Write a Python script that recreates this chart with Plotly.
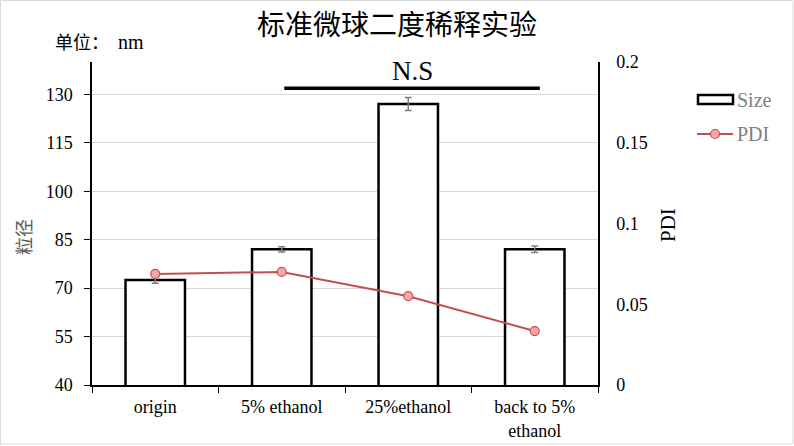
import plotly.graph_objects as go

categories = ["origin", "5% ethanol", "25%ethanol", "back to 5%<br>ethanol"]
size_values = [72.5, 82.0, 127.0, 82.0]
size_errors = [1.0, 0.8, 2.0, 1.0]
pdi_values = [0.0688, 0.0700, 0.0550, 0.0334]
left_ticks = [40, 55, 70, 85, 100, 115, 130]
right_ticks = [0, 0.05, 0.1, 0.15, 0.2]
right_tick_labels = ["0", "0.05", "0.1", "0.15", "0.2"]
series_names = ["Size", "PDI"]

serif = "Liberation Serif"
cjk = "Noto Sans CJK SC"
mixed = "Liberation Serif, Noto Sans CJK SC"

W, H = 794, 446
PL, PR, PT, PB = 92, 598, 62, 385
PW, PH = PR - PL, PB - PT
RED = "#C0504D"
PINK = "#F4A7A6"


def px(x):
    return (x - PL) / PW


def py(y):
    return (PB - y) / PH


fig = go.Figure()
fig.add_trace(go.Bar(
    x=categories, y=size_values, name=series_names[0],
    marker=dict(color="white", line=dict(color="black", width=2.5)),
    width=0.47,
    error_y=dict(type="data", array=size_errors, color="#7f7f7f", thickness=1.5, width=3.5),
    yaxis="y", showlegend=False, hoverinfo="skip",
))
fig.add_trace(go.Scatter(
    x=categories, y=pdi_values, name=series_names[1], mode="lines+markers",
    line=dict(color=RED, width=2),
    marker=dict(size=9, color=PINK, line=dict(color=RED, width=1.2)),
    yaxis="y2", showlegend=False, hoverinfo="skip",
))

# N.S significance bar
fig.add_shape(type="line", xref="x", yref="y", x0=1.02, x1=3.04, y0=131.9, y1=131.9,
              line=dict(color="black", width=3.5))
fig.add_annotation(x=2.03, y=131.9, xref="x", yref="y", text="N.S", showarrow=False,
                   yanchor="bottom", yshift=0, font=dict(family=serif, size=27, color="black"))

# unit label
fig.add_annotation(xref="paper", yref="paper", x=px(53), y=py(42), xanchor="left", yanchor="middle",
                   text="单位：&nbsp;&nbsp;<span style=\"font-size:20px\">nm</span>", showarrow=False,
                   font=dict(family=mixed, size=18, color="black"))
# axis titles
fig.add_annotation(xref="paper", yref="paper", x=px(23), y=py(237), xanchor="center", yanchor="middle",
                   text="粒径", textangle=-90, showarrow=False,
                   font=dict(family=cjk, size=18, color="#595959"))
fig.add_annotation(xref="paper", yref="paper", x=px(668), y=py(225), xanchor="center", yanchor="middle",
                   text="PDI", textangle=-90, showarrow=False,
                   font=dict(family=serif, size=21, color="black"))
# title
fig.add_annotation(xref="paper", yref="paper", x=px(397), y=py(23), xanchor="center", yanchor="middle",
                   text="标准微球二度稀释实验", showarrow=False,
                   font=dict(family=cjk, size=28, color="black"))

# custom legend
fig.add_shape(type="rect", xref="paper", yref="paper",
              x0=px(698), x1=px(733), y0=py(104), y1=py(95),
              line=dict(color="black", width=2.5), fillcolor="white")
fig.add_annotation(xref="paper", yref="paper", x=px(735), y=py(100), xanchor="left", yanchor="middle",
                   text=series_names[0], showarrow=False,
                   font=dict(family=serif, size=20, color="#808080"))
fig.add_shape(type="line", xref="paper", yref="paper",
              x0=px(697), x1=px(733), y0=py(134), y1=py(134),
              line=dict(color=RED, width=2))
fig.add_shape(type="circle", xref="paper", yref="paper",
              x0=px(710.5), x1=px(719.5), y0=py(138.5), y1=py(129.5),
              line=dict(color=RED, width=1.2), fillcolor=PINK)
fig.add_annotation(xref="paper", yref="paper", x=px(735), y=py(134), xanchor="left", yanchor="middle",
                   text=series_names[1], showarrow=False,
                   font=dict(family=serif, size=20, color="#808080"))

# border frame
fig.add_shape(type="rect", xref="paper", yref="paper",
              x0=px(0.5), x1=px(793), y0=py(444), y1=py(0.5),
              line=dict(color="#d9d9d9", width=1))

fig.update_layout(
    width=W, height=H,
    margin=dict(l=PL, r=W - PR, t=PT, b=H - PB, autoexpand=False),
    paper_bgcolor="white", plot_bgcolor="white",
    bargap=0.53,
    showlegend=False,
    hovermode=False,
    xaxis=dict(
        type="category", showline=True, linecolor="black", linewidth=1.5,
        ticks="outside", tickson="boundaries", ticklen=6, tickcolor="black",
        tickfont=dict(family=serif, size=18, color="black"),
        showgrid=False, range=[-0.5, 3.5], automargin=False, ticklabelstandoff=5,
    ),
    yaxis=dict(
        range=[40, 140], tickvals=left_ticks, showline=True, linecolor="black", linewidth=1.5,
        ticks="outside", ticklen=6, tickcolor="black",
        tickfont=dict(family=serif, size=18, color="black"),
        showgrid=True, gridcolor="#d9d9d9", gridwidth=1, zeroline=False, automargin=False,
        ticklabelstandoff=8,
    ),
    yaxis2=dict(
        range=[0, 0.2], tickvals=right_ticks, ticktext=right_tick_labels, overlaying="y", side="right",
        showline=True, linecolor="black", linewidth=1.5, ticks="", showgrid=False, zeroline=False,
        tickfont=dict(family=serif, size=18, color="black"), automargin=False, ticklabelstandoff=13,
    ),
)

fig.write_html("out.html", config={"displayModeBar": False},
               post_script="document.body.style.margin='0px';")
